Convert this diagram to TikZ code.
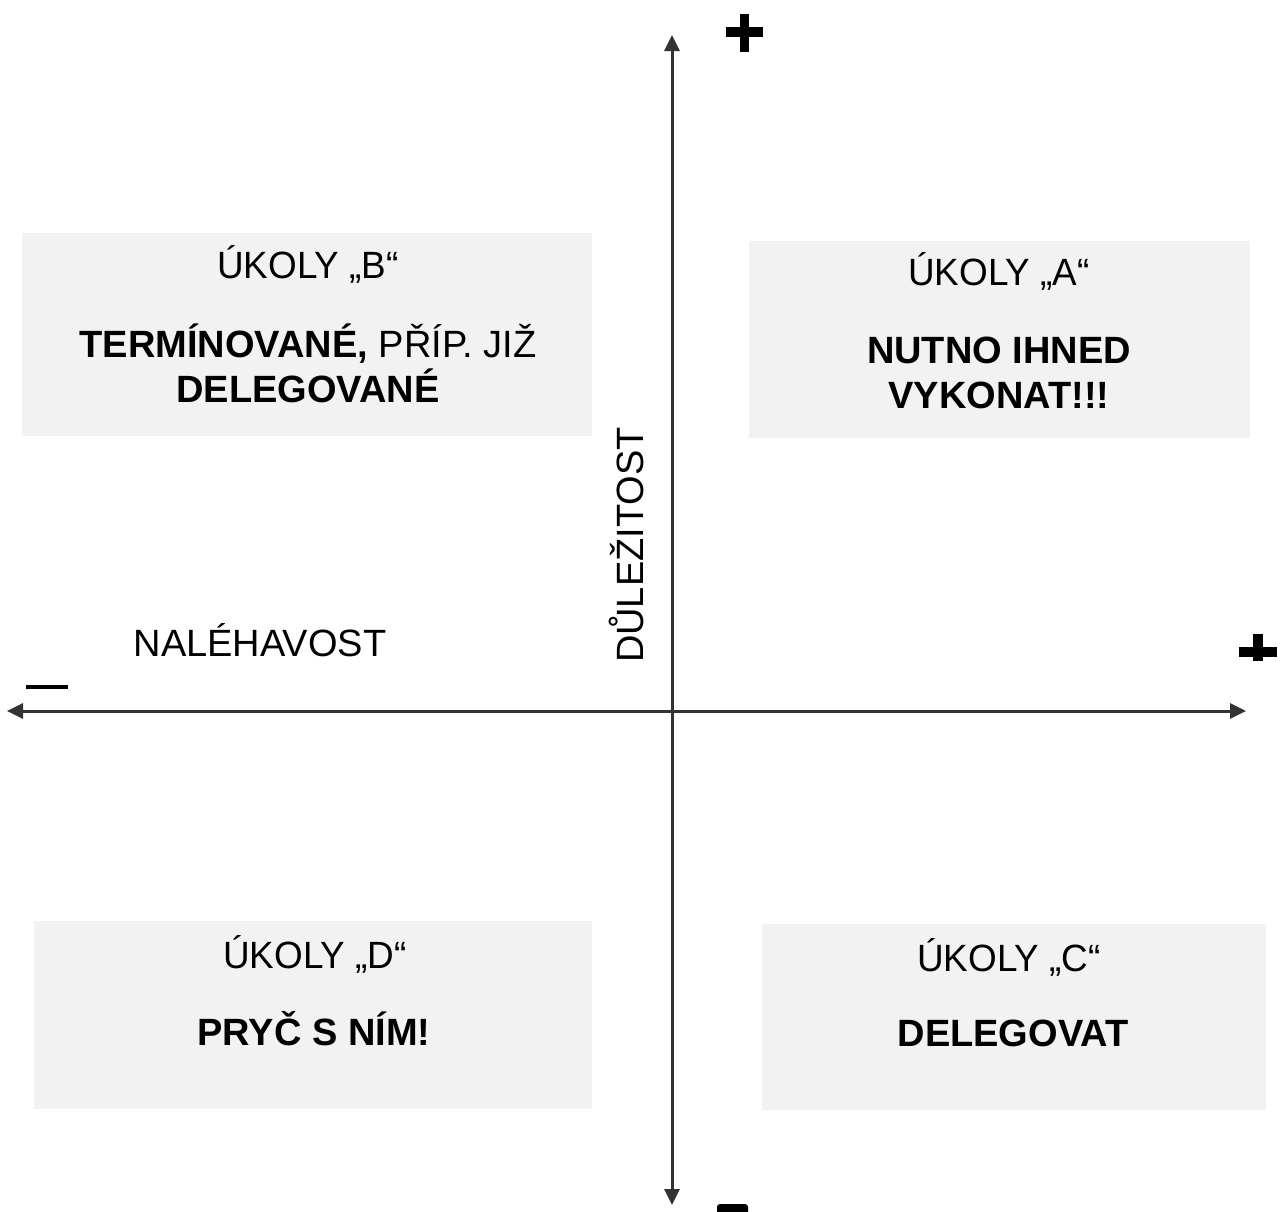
\documentclass[tikz,border=0pt]{standalone}
\usepackage{fontspec}
\setmainfont{Liberation Sans}
\newfontfamily\narrowfont[FakeStretch=0.97]{Liberation Sans}
\usetikzlibrary{arrows.meta}
\definecolor{boxgray}{HTML}{F2F2F2}
\definecolor{axisgray}{HTML}{333333}
\tikzset{
  quad/.style={fill=boxgray, draw=none, inner sep=0pt},
  ttl/.style={anchor=base, inner sep=0pt, font=\narrowfont\fontsize{38}{45}\selectfont},
  bodytxt/.style={anchor=base, inner sep=0pt, font=\fontsize{38}{45}\selectfont\bfseries, align=center},
  lbl/.style={anchor=base, inner sep=0pt, font=\fontsize{38}{45}\selectfont},
  axis/.style={draw=axisgray, line width=3pt, {Triangle[length=16pt,width=15pt]}-{Triangle[length=16pt,width=15pt]}},
  sign/.style={fill=black, draw=none}
}
\begin{document}
\begin{tikzpicture}[x={(1pt,0)}, y={(0,-1pt)}]
\useasboundingbox (0,0) rectangle (1281,1211);
% quadrant boxes
\node[quad, minimum width=570pt, minimum height=203pt] (boxB) at (307,334.5) {};
\node[quad, minimum width=501pt, minimum height=197pt] (boxA) at (999.5,339.5) {};
\node[quad, minimum width=558pt, minimum height=188pt] (boxD) at (313,1015) {};
\node[quad, minimum width=504pt, minimum height=186pt] (boxC) at (1014,1017) {};
% texts
\node[ttl] (tB) at (308,278) {ÚKOLY „B“};
\node[bodytxt] (bB1) at (308,357) {TERMÍNOVANÉ,\mdseries{} PŘÍP. JIŽ};
\node[bodytxt] (bB2) at (308,402) {DELEGOVANÉ};
\node[ttl] (tA) at (999,285) {ÚKOLY „A“};
\node[bodytxt] (bA1) at (999,363) {NUTNO IHNED};
\node[bodytxt] (bA2) at (999,408) {VYKONAT!!!};
\node[ttl] (tD) at (315,968) {ÚKOLY „D“};
\node[bodytxt] (bD) at (314,1045) {PRYČ S NÍM!};
\node[ttl] (tC) at (1009,971) {ÚKOLY „C“};
\node[bodytxt] (bC) at (1013,1046) {DELEGOVAT};
\node[lbl] (lx) at (260,656) {NALÉHAVOST};
\node[lbl, rotate=90] (ly) at (643,545) {DŮLEŽITOST};
% axes
\coordinate (vtop) at (672,35);
\coordinate (vbot) at (672,1205);
\coordinate (hleft) at (7,711);
\coordinate (hright) at (1246,711);
\draw[axis] (hleft) -- (hright);
\draw[axis] (vbot) -- (vtop);
% signs
\fill[sign] (726,27) rectangle (763,37);
\fill[sign] (740,14) rectangle (749,52);
\fill[sign] (1239,647) rectangle (1277,657);
\fill[sign] (1253,634) rectangle (1263,661);
\fill[sign] (26,685) rectangle (68,689);
\fill[sign, rounded corners=3pt] (717,1204) rectangle (748,1218);
\end{tikzpicture}
\end{document}
